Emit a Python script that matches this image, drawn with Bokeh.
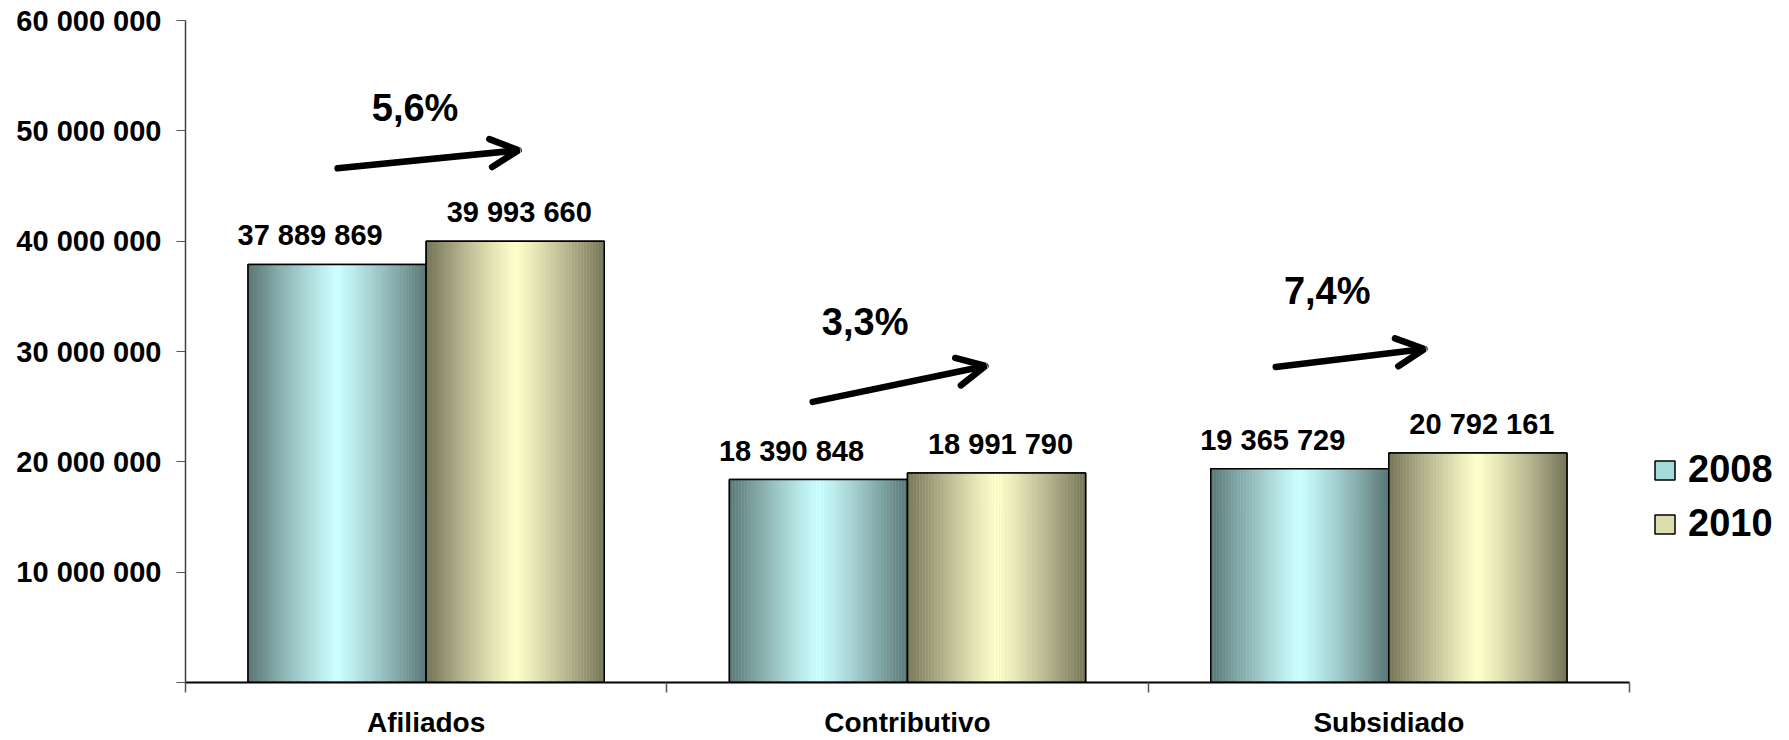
import numpy as np
from bokeh.plotting import figure
from bokeh.models import (Range1d, FixedTicker, Arrow, OpenHead, Legend, LegendItem)
from bokeh.core.properties import value
from bokeh.embed import file_html
from bokeh.resources import INLINE

# ---------------- data ----------------
categories = ["Afiliados", "Contributivo", "Subsidiado"]
years = ["2008", "2010"]
values_2008 = [37889869, 18390848, 19365729]
values_2010 = [39993660, 18991790, 20792161]
growth_labels = ["5,6%", "3,3%", "7,4%"]
y_ticks = [0, 10000000, 20000000, 30000000, 40000000, 50000000, 60000000]

# ---------------- styles ----------------
FONT = "Liberation Sans"
BAR_W = 0.37
SERIES_OFFSET = [-0.185, 0.185]
EDGE = [(0x5a, 0x76, 0x76), (0x74, 0x74, 0x58)]
CENTER = [(0xcc, 0xff, 0xff), (0xff, 0xff, 0xcc)]
LEGEND_FILL = ["#a4dada", "#dcdcae"]
LABEL_XOFF = [-27, 4]
N_STRIPES = 60

# annotation placement (data coordinates)
arrow_x0 = [0.316, 1.303, 2.265]
arrow_y0 = [46.6e6, 25.43e6, 28.6e6]
arrow_x1 = [0.692, 1.662, 2.574]
arrow_y1 = [48.24e6, 28.69e6, 30.23e6]
pct_x = [0.477, 1.412, 2.372]
pct_y = [52.08e6, 32.71e6, 35.52e6]

n = len(categories)
# frame extends right of the category area so the legend can sit inside it
p = figure(width=1789, height=740, x_range=Range1d(0, n + 0.322), y_range=Range1d(0, 60000000),
           output_backend="svg", toolbar_location=None,
           min_border_left=185, min_border_right=5, min_border_top=20, min_border_bottom=58)
p.outline_line_color = None
p.xgrid.visible = False
p.ygrid.visible = False
p.background_fill_color = "white"

series = [values_2008, values_2010]
base_renderers = []
for k, vals in enumerate(series):
    xc = [i + 0.5 + SERIES_OFFSET[k] for i in range(n)]
    # base bar (used for legend)
    r = p.vbar(x=xc, top=vals, width=BAR_W, bottom=0, fill_color=LEGEND_FILL[k],
               line_color="black", line_width=1.5)
    base_renderers.append(r)
    # gradient stripes
    xs, tops, cols = [], [], []
    w = BAR_W / N_STRIPES
    for i, v in enumerate(vals):
        for s in range(N_STRIPES):
            u = (s + 0.5) / N_STRIPES
            t = abs(2 * u - 1)
            f = t ** 1.15
            c = tuple(int(round(EDGE[k][j] * f + CENTER[k][j] * (1 - f))) for j in range(3))
            xs.append(xc[i] - BAR_W / 2 + u * BAR_W)
            tops.append(v)
            cols.append("#%02x%02x%02x" % c)
    p.vbar(x=xs, top=tops, bottom=0, width=w * 1.08, fill_color=cols, line_color=None)
    # outline
    p.vbar(x=xc, top=vals, width=BAR_W, bottom=0, fill_alpha=0, line_color="black",
           line_width=1.5)
    # data labels
    p.text(x=xc, y=vals, text=[f"{v:,}".replace(",", " ") for v in vals],
           x_offset=LABEL_XOFF[k], y_offset=-29,
           text_font=value(FONT), text_font_style="bold", text_font_size="29px",
           text_align="center", text_baseline="alphabetic", text_color="black")

# growth arrows and labels
for i in range(n):
    p.add_layout(Arrow(end=OpenHead(size=28, line_width=6.5, line_cap="round", line_color="black"),
                       x_start=arrow_x0[i], y_start=arrow_y0[i],
                       x_end=arrow_x1[i], y_end=arrow_y1[i],
                       line_width=6.5, line_cap="round", line_color="black"))
p.text(x=pct_x, y=pct_y, text=growth_labels, text_font=value(FONT), text_font_style="bold",
       text_font_size="38px", text_align="center", text_baseline="middle", text_color="black")

# y axis
yax = p.yaxis[0]
yax.ticker = FixedTicker(ticks=y_ticks)
yax.major_label_overrides = {t: ("" if t == 0 else f"{t:,}".replace(",", " ")) for t in y_ticks}
yax.major_label_text_font = FONT
yax.major_label_text_font_style = "bold"
yax.major_label_text_font_size = "29px"
yax.major_label_text_color = "black"
yax.major_tick_out = 9
yax.major_tick_in = 0
yax.minor_tick_line_color = None
yax.major_tick_line_color = "#555555"
yax.axis_line_color = "#404040"
yax.axis_line_width = 1.5
yax.major_label_standoff = 15

# x axis
xax = p.xaxis[0]
xax.bounds = (0, n)
xax.ticker = FixedTicker(ticks=[i + 0.5 for i in range(n)],
                         minor_ticks=list(range(n + 1)))
xax.major_label_overrides = {i + 0.5: c for i, c in enumerate(categories)}
xax.major_label_text_font = FONT
xax.major_label_text_font_style = "bold"
xax.major_label_text_font_size = "28px"
xax.major_label_text_color = "black"
xax.major_tick_line_color = None
xax.major_tick_out = 0
xax.major_tick_in = 0
xax.minor_tick_out = 10
xax.minor_tick_in = 0
xax.minor_tick_line_color = "#555555"
xax.minor_tick_line_width = 1.5
xax.axis_line_color = "black"
xax.axis_line_width = 2
xax.major_label_standoff = 14

legend = Legend(items=[LegendItem(label=years[k], renderers=[base_renderers[k]]) for k in range(2)],
                location=(1467, 137), glyph_width=25, glyph_height=24, label_height=24,
                label_text_font=FONT, label_text_font_style="bold", label_text_font_size="38px",
                label_text_color="black",
                label_standoff=11, spacing=11, padding=0, margin=0,
                border_line_alpha=0, background_fill_alpha=0)
p.add_layout(legend)

open("out.html", "w").write(file_html(p, INLINE))
